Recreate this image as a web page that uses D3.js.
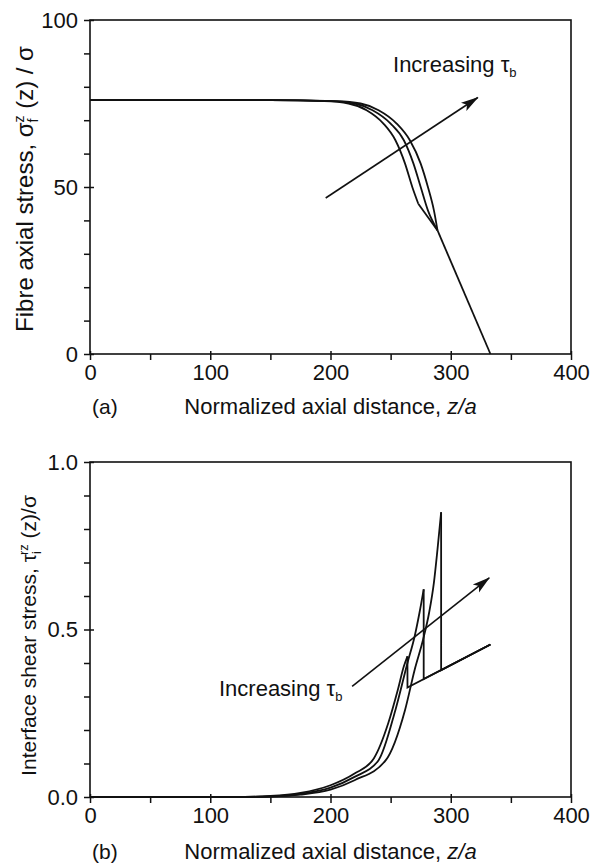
<!DOCTYPE html>
<html>
<head>
<meta charset="utf-8">
<script src="https://cdnjs.cloudflare.com/ajax/libs/d3/7.8.5/d3.min.js"></script>
<style>
body{margin:0;background:#fff}
text{font-family:"Liberation Sans",Arial,sans-serif;fill:#111}
</style>
</head>
<body>
<svg id="fig" width="605" height="867"></svg>
<script>
////////////

// (a) fibre axial stress, three tau_b values (smooth part)
var fibreZ1=[0,150,195,215,230,244,254,262,268,273];
var fibreS1=[76,76,75.7,75,73,69,64,57,50,45];
var fibreZ2=[0,150,200,220,235,250,261,269,275,281,289];
var fibreS2=[76,76,75.7,75,73,69,64,57,50,43,37];
var fibreZ3=[0,150,205,225,240,255,266,275,281,286,289];
var fibreS3=[76,76,75.7,75,73,69,64,57,50,43,37];
// common linear tail
var fibreTailZ=[289,333];
var fibreTailS=[37,0];

// (b) interface shear stress, rising parts up to the peak
var shearZ1=[0,120,150,175,200,220,236,248,256,261,264];
var shearT1=[0,0,0.003,0.012,0.035,0.07,0.115,0.22,0.32,0.39,0.42];
var shearZ2=[0,120,150,175,200,220,240,254,264,270,274,277.5];
var shearT2=[0,0,0.002,0.009,0.028,0.06,0.11,0.26,0.40,0.48,0.55,0.62];
var shearZ3=[0,120,150,175,200,220,246,262,270,277,282,286,289,292];
var shearT3=[0,0,0.001,0.007,0.022,0.05,0.11,0.26,0.38,0.47,0.55,0.64,0.74,0.85];
// after the peak: drop, then friction line
var shearDropT=[0.327,0.352,0.378];
var shearEndZ=333, shearEndT=0.455;

var xTicks=d3.range(0,401,50);
var sTicks=d3.range(0,101,10);
var tTicks=d3.range(0,11).map(function(i){return i/10;});

var svg=d3.select('#fig');
var ink='#111';

svg.append('defs').append('marker')
	.attr('id','arr').attr('markerUnits','userSpaceOnUse')
	.attr('markerWidth',18).attr('markerHeight',12)
	.attr('refX',17).attr('refY',6).attr('orient','auto')
	.append('path').attr('d','M0,1 L18,6 L0,11 L4,6 Z').attr('fill',ink);

var x=d3.scaleLinear().domain([0,400]).range([90,571]);
var yA=d3.scaleLinear().domain([0,100]).range([354,20]);
var yB=d3.scaleLinear().domain([0,1]).range([797,462]);

function frame(y){
	svg.append('rect')
		.attr('x',x(0)).attr('y',y.range()[1])
		.attr('width',x(400)-x(0)).attr('height',y.range()[0]-y.range()[1])
		.attr('fill','none').attr('stroke',ink).attr('stroke-width',1.6);
}

function axes(y,ticks,isMajor,fmt){
	var gx=svg.append('g').attr('transform','translate(0,'+y.range()[0]+')')
		.call(d3.axisBottom(x).tickValues(xTicks).tickSizeOuter(0).tickSize(6).tickPadding(4)
			.tickFormat(function(d){return d%100===0?d:'';}));
	gx.select('.domain').remove();
	gx.selectAll('.tick line').attr('stroke',ink).attr('stroke-width',1.5)
		.attr('y1',function(d){return d%100===0?-3:0;});
	gx.selectAll('text').style('font-size','22px').attr('fill',ink);

	var gy=svg.append('g').attr('transform','translate('+x(0)+',0)')
		.call(d3.axisLeft(y).tickValues(ticks).tickSizeOuter(0).tickSize(6).tickPadding(6)
			.tickFormat(function(d){return isMajor(d)?fmt(d):'';}));
	gy.select('.domain').remove();
	gy.selectAll('.tick line').attr('stroke',ink).attr('stroke-width',1.5)
		.attr('x1',function(d){return isMajor(d)?4:0;});
	gy.selectAll('text').style('font-size','22px').attr('fill',ink);
}

function xTitle(y,tag){
	svg.append('text').attr('x',92).attr('y',y).style('font-size','21px').text(tag);
	var t=svg.append('text').attr('x',x(200)).attr('y',y)
		.attr('text-anchor','middle').style('font-size','22px');
	t.append('tspan').text('Normalized axial distance, ');
	t.append('tspan').style('font-style','italic').text('z/a');
}

// ---- (a)
frame(yA);
axes(yA,sTicks,function(d){return d%50===0;},function(d){return d;});
xTitle(414,'(a)');

var lineA=d3.line().x(function(d){return x(d[0]);}).y(function(d){return yA(d[1]);});
[[fibreZ1,fibreS1],[fibreZ2,fibreS2],[fibreZ3,fibreS3]].forEach(function(s){
	var pts=d3.zip(s[0],s[1]);
	svg.append('path').attr('d',lineA.curve(d3.curveMonotoneX)(pts))
		.attr('fill','none').attr('stroke',ink).attr('stroke-width',1.8);
	var last=pts[pts.length-1];
	if(last[0]<fibreTailZ[0]){
		svg.append('path').attr('d',lineA.curve(d3.curveLinear)([last,[fibreTailZ[0],fibreTailS[0]]]))
			.attr('fill','none').attr('stroke',ink).attr('stroke-width',1.8);
	}
});
svg.append('path').attr('d',lineA.curve(d3.curveLinear)(d3.zip(fibreTailZ,fibreTailS)))
	.attr('fill','none').attr('stroke',ink).attr('stroke-width',1.8);

var ta=svg.append('g').attr('transform','translate(33,'+(yA(50)+2)+') rotate(-90)')
	.append('text').attr('text-anchor','middle').style('font-size','24px');
ta.append('tspan').text('Fibre axial stress, σ');
ta.append('tspan').style('font-size','14px').attr('dy',5).text('f');
ta.append('tspan').style('font-size','14px').attr('dx',-4).attr('dy',-14).text('z');
ta.append('tspan').attr('dy',9).text(' (z) / σ');

// arrow + label (a)
svg.append('line')
	.attr('x1',x(196)).attr('y1',yA(46.7)).attr('x2',x(322.5)).attr('y2',yA(76.8))
	.attr('stroke',ink).attr('stroke-width',1.6).attr('marker-end','url(#arr)');
var la=svg.append('text').attr('x',x(252)).attr('y',yA(84.3)).style('font-size','22px');
la.append('tspan').text('Increasing τ');
la.append('tspan').style('font-size','13px').attr('dy',5).text('b');

// ---- (b)
frame(yB);
axes(yB,tTicks,function(d){return Math.round(d*10)%5===0;},d3.format('.1f'));
xTitle(859,'(b)');

var lineB=d3.line().x(function(d){return x(d[0]);}).y(function(d){return yB(d[1]);});
[[shearZ1,shearT1],[shearZ2,shearT2],[shearZ3,shearT3]].forEach(function(s,i){
	var pts=d3.zip(s[0],s[1]);
	svg.append('path').attr('d',lineB.curve(d3.curveMonotoneX)(pts))
		.attr('fill','none').attr('stroke',ink).attr('stroke-width',1.8);
	var pk=pts[pts.length-1];
	svg.append('path').attr('d',lineB.curve(d3.curveLinear)([pk,[pk[0],shearDropT[i]],[shearEndZ,shearEndT]]))
		.attr('fill','none').attr('stroke',ink).attr('stroke-width',1.8);
});

var tb=svg.append('g').attr('transform','translate(36,'+(yB(0.5)+6)+') rotate(-90)')
	.append('text').attr('text-anchor','middle').style('font-size','21px');
tb.append('tspan').text('Interface shear stress, τ');
tb.append('tspan').style('font-size','13px').attr('dy',5).text('i');
tb.append('tspan').style('font-size','13px').attr('dx',-4).attr('dy',-13).text('rz');
tb.append('tspan').attr('dy',8).text(' (z)/σ');

// arrow + label (b)
svg.append('line')
	.attr('x1',x(218)).attr('y1',yB(0.33)).attr('x2',x(332)).attr('y2',yB(0.654))
	.attr('stroke',ink).attr('stroke-width',1.6).attr('marker-end','url(#arr)');
var lb=svg.append('text').attr('x',x(210)).attr('y',yB(0.302))
	.attr('text-anchor','end').style('font-size','22px');
lb.append('tspan').text('Increasing τ');
lb.append('tspan').style('font-size','13px').attr('dy',5).text('b');

////////////
</script>
</body>
</html>
